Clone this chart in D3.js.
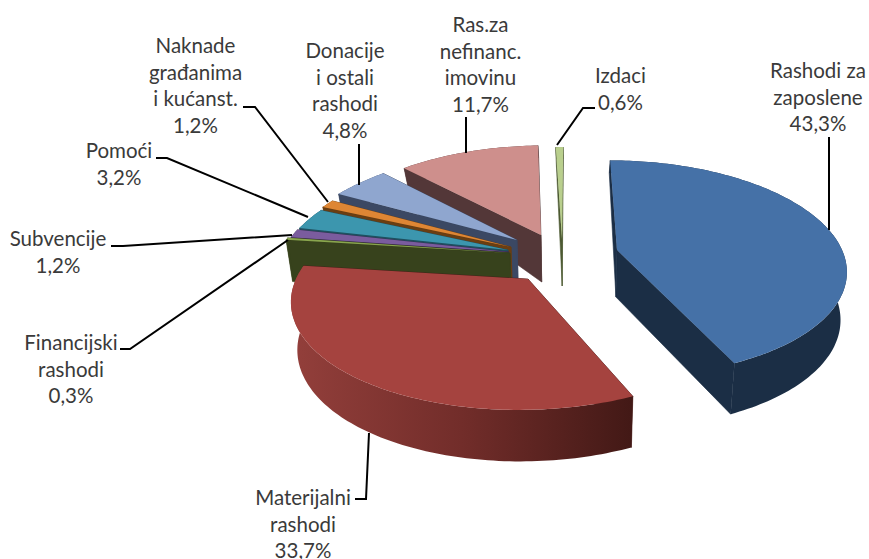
<!DOCTYPE html>
<html><head><meta charset="utf-8">
<style>html,body{margin:0;background:#fff}svg{display:block}</style>
<script src="https://cdnjs.cloudflare.com/ajax/libs/d3/7.8.5/d3.min.js"></script>
</head><body><svg id="c" width="869" height="559"></svg>
<script>
const categories = ["Rashodi za zaposlene","Materijalni rashodi","Financijski rashodi","Subvencije","Pomoći","Naknade građanima i kućanst.","Donacije i ostali rashodi","Ras.za nefinanc. imovinu","Izdaci"];
const values = [43.3,33.7,0.3,1.2,3.2,1.2,4.8,11.7,0.6];
const topColors = ["#4571a7","#a5433f","#89a54e","#7a5c9e","#3c96ae","#de8634","#8fa6cf","#ce8f8c","#b9cf8d"];
const wallColors = ["#1b2e45","#451a17","#37421c","#3b2c4f","#1f5060","#6a3e12","#3b4863","#533738","#4d5a33"];
const centres = [[617,250],[528,279],[510,253],[509,252],[508,250],[511,247],[517,240],[541,235],[562,239]];
const reach = [0.97,1,1,0.98,0.965,0.97,0.966,0.97,1];
const labelLines = [["Rashodi za","zaposlene","43,3%"],["Materijalni","rashodi","33,7%"],["Financijski","rashodi","0,3%"],["Subvencije","1,2%"],["Pomoći","3,2%"],["Naknade","građanima","i kućanst.","1,2%"],["Donacije","i ostali","rashodi","4,8%"],["Ras.za","nefinanc.","imovinu","11,7%"],["Izdaci","0,6%"]];
const labelAnchors = [[818,78],[303,505],[71,350],[58,246],[119,158],[195.5,53],[345,58],[480.5,32],[620.5,83]];
const leaders = [[[829,137],[829,230]],[[355,499],[366,499],[369,433]],[[120,349],[130,349],[288,240]],[[111,246],[123,246],[292,235]],[[156,158],[167,158],[308,217]],[[243,107],[255,107],[328,202]],[[359,144],[359,185]],[[466,117],[466,153]],[[595,108],[583,108],[557,145]]];
const drawOrder = [7,8,6,5,4,3,2,1,0];

const RX = 232, RY = 108, K = 0.175, VX = 570;
const depth = d3.scaleLinear().domain([-1,-0.7,0,1]).range([12,18,47,51.5]);
const slices = d3.pie().sort(null).value(d=>d)(values);

function project(c, a, r, low){
  const X = r*Math.sin(a), Y = -r*Math.cos(a), s = 1/(1-K*Y);
  const shrink = low ? 0.977 : 1;
  return [VX+(c[0]-VX+RX*X)*s*shrink, c[1]+RY*Y*s+(low?depth(Y):0)];
}
function arcPts(c,a0,a1,low,r){
  const n = Math.max(2,Math.ceil((a1-a0)/0.02));
  return d3.range(n+1).map(i=>project(c,a0+(a1-a0)*i/n,r,low));
}
const line = d3.line();
const close = p => line(p)+"Z";
const svg = d3.select("#c");

const defs = svg.append("defs");
const grad = defs.append("linearGradient").attr("id","redWall").attr("gradientUnits","userSpaceOnUse")
  .attr("x1",292).attr("x2",631).attr("y1",0).attr("y2",0);
grad.selectAll("stop").data([[0,"#933f3b"],[0.5,"#722d2a"],[1,"#431916"]]).enter().append("stop")
  .attr("offset",d=>d[0]).attr("stop-color",d=>d[1]);

const pie = svg.append("g");
drawOrder.forEach(i=>{
  const d = slices[i], c = centres[i], r = reach[i], a0 = d.startAngle, a1 = d.endAngle, g = pie.append("g");
  const wall = i===1 ? "url(#redWall)" : wallColors[i];
  const radial = a => close([project(c,a,0,false),project(c,a,r,false),project(c,a,r,true),project(c,a,0,true)]);
  g.append("path").attr("d",radial(a1)).attr("fill",wallColors[i]).attr("stroke",wallColors[i]).attr("stroke-width",0.6);
  g.append("path").attr("d",radial(a0)).attr("fill",wallColors[i]).attr("stroke",wallColors[i]).attr("stroke-width",0.6);
  g.append("path").attr("d",close(arcPts(c,a0,a1,false,r).concat(arcPts(c,a0,a1,true,r).reverse()))).attr("fill",wall);
  g.append("path").attr("d",close([project(c,a0,0,false)].concat(arcPts(c,a0,a1,false,r)))).attr("fill",topColors[i]);
});

svg.append("g").selectAll("path").data(leaders).enter().append("path")
  .attr("d",d=>line(d)).attr("fill","none").attr("stroke","#000").attr("stroke-width",2);

const labels = svg.append("g").attr("font-family","Lato, 'Open Sans', sans-serif").attr("font-size",20.5).attr("fill","#3a3a3a").attr("text-anchor","middle");
labelLines.forEach((ls,i)=>{
  const t = labels.append("text").attr("y",labelAnchors[i][1]);
  ls.forEach((s,j)=>t.append("tspan").attr("x",labelAnchors[i][0]).attr("dy",j?26.7:0).text(s));
});
</script></body></html>
